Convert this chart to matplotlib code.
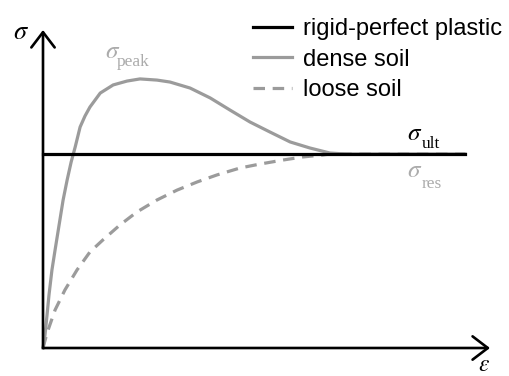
import matplotlib.pyplot as plt

plt.rcParams['font.family'] = ['Liberation Sans', 'DejaVu Sans']
plt.rcParams['mathtext.fontset'] = 'stix'

GRAY = '#9b9b9b'
LIGHT_GRAY = '#ababab'

# strain (0..1 along the x arrow), stress (sigma_ult = 1)
eps_rigid = [0.0, 0.944]
sig_rigid = [1.0, 1.0]

eps_dense = [0.0, 0.0045, 0.009, 0.0134, 0.020, 0.027, 0.036, 0.045, 0.054,
             0.063, 0.072, 0.083, 0.094, 0.105, 0.128, 0.157, 0.188, 0.217,
             0.255, 0.284, 0.329, 0.374, 0.418, 0.463, 0.508, 0.553, 0.597,
             0.642, 0.676, 0.944]
sig_dense = [0.0, 0.067, 0.170, 0.273, 0.402, 0.505, 0.634, 0.763, 0.866,
             0.959, 1.036, 1.139, 1.196, 1.242, 1.314, 1.356, 1.376, 1.387,
             1.381, 1.371, 1.340, 1.289, 1.227, 1.165, 1.113, 1.062, 1.031,
             1.005, 1.0, 1.0]

eps_loose = [0.0, 0.009, 0.027, 0.049, 0.076, 0.105, 0.134, 0.172, 0.210,
             0.255, 0.300, 0.345, 0.389, 0.441, 0.485, 0.537, 0.582, 0.626,
             0.642, 0.944]
sig_loose = [0.0, 0.077, 0.196, 0.299, 0.402, 0.495, 0.557, 0.634, 0.701,
             0.763, 0.814, 0.856, 0.892, 0.928, 0.948, 0.969, 0.985, 0.995,
             1.0, 1.0]

legend_labels = ['rigid-perfect plastic', 'dense soil', 'loose soil']

W, H = 510, 376
fig = plt.figure(figsize=(W / 100, H / 100), dpi=100)
ax = fig.add_axes([43 / W, 28 / H, 447 / W, 318 / H])
ax.set_xlim(0, 1)
ax.set_ylim(0, 318 / 194)
ax.axis('off')

arrow = dict(arrowstyle='->,head_length=0.55,head_width=0.42',
             lw=1.9, color='black', mutation_scale=20, shrinkA=0, shrinkB=0)
ax.annotate('', xy=(0, 1), xytext=(0, 0), xycoords='axes fraction',
            arrowprops=arrow)
ax.annotate('', xy=(1, 0), xytext=(0, 0), xycoords='axes fraction',
            arrowprops=arrow)

ax.plot(eps_dense, sig_dense, color=GRAY, lw=2.3, solid_joinstyle='round',
        clip_on=False, label=legend_labels[1])
ax.plot(eps_loose, sig_loose, color=GRAY, lw=2.3, dashes=(3.6, 2.4),
        clip_on=False, label=legend_labels[2])
ax.plot(eps_rigid, sig_rigid, color='black', lw=2.3, clip_on=False,
        label=legend_labels[0])

ax.text(-0.068, 1.595, r'$\sigma$', fontsize=19, ha='left', va='baseline')
ax.text(0.973, -0.12, r'$\varepsilon$', fontsize=17, ha='left',
        va='baseline')

# sigma labels with low-set subscripts
sub = dict(family='Liberation Serif', fontsize=12.5, ha='left',
           va='baseline')
ax.text(0.139, 1.495, r'$\sigma$', fontsize=18, color=LIGHT_GRAY,
        ha='left', va='baseline')
ax.text(0.165, 1.452, 'peak', color=LIGHT_GRAY, **sub)
ax.text(0.814, 1.072, r'$\sigma$', fontsize=18, color='black',
        ha='left', va='baseline')
ax.text(0.848, 1.031, 'ult', color='black', **sub)
ax.text(0.814, 0.881, r'$\sigma$', fontsize=18, color=LIGHT_GRAY,
        ha='left', va='baseline')
ax.text(0.848, 0.825, 'res', color=LIGHT_GRAY, **sub)

handles, labels = ax.get_legend_handles_labels()
order = [2, 0, 1]
ax.legend([handles[i] for i in order], [labels[i] for i in order],
          loc='upper left', bbox_to_anchor=(253 / W, 1 - 18 / H),
          bbox_transform=fig.transFigure, frameon=False, fontsize=17,
          handlelength=1.65, handletextpad=0.45, labelspacing=0.36,
          borderpad=0, borderaxespad=0)

fig.savefig('out.png', dpi=100)
